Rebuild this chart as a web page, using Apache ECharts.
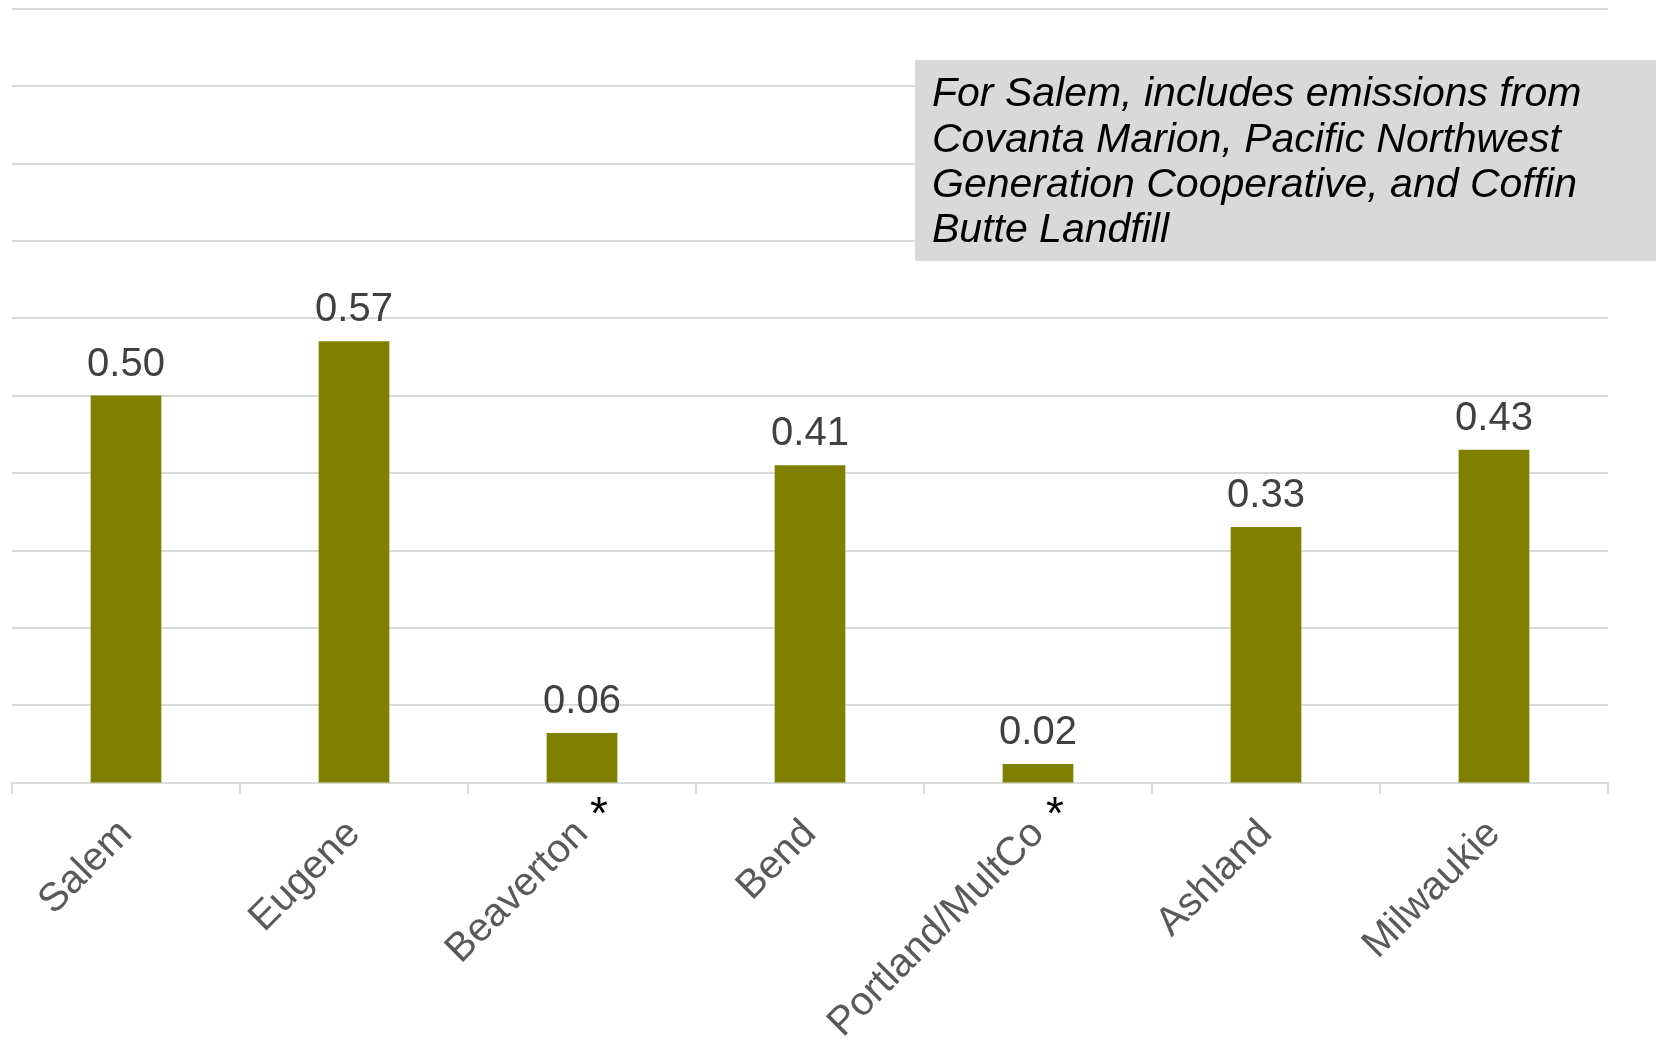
<!DOCTYPE html>
<html>
<head>
<meta charset="utf-8">
<style>
html,body{margin:0;padding:0;background:#fff;}
#chart{width:1656px;height:1044px;}
</style>
<script src="https://cdn.jsdelivr.net/npm/echarts@6/dist/echarts.min.js"></script>
</head>
<body>
<div id="chart"></div>
<script>
const categories = ['Salem', 'Eugene', 'Beaverton', 'Bend', 'Portland/MultCo', 'Ashland', 'Milwaukie'];
const values = [0.50, 0.57, 0.064, 0.41, 0.024, 0.33, 0.43];
const starred = ['Beaverton', 'Portland/MultCo'];
const noteText = 'For Salem, includes emissions from\nCovanta Marion, Pacific Northwest\nGeneration Cooperative, and Coffin\nButte Landfill';

const FONT = '"Liberation Sans", Arial, sans-serif';
const chart = echarts.init(document.getElementById('chart'));
const option = {
  animation: false,
  backgroundColor: '#ffffff',
  grid: { left: 12, right: 48, top: 8.5, bottom: 261.5, containLabel: false, outerBoundsMode: 'none' },
  xAxis: {
    type: 'category',
    data: categories,
    axisLine: { lineStyle: { color: '#d9d9d9', width: 2 } },
    axisTick: { show: true, length: 11, lineStyle: { color: '#d9d9d9', width: 2 } },
    axisLabel: {
      rotate: 45, margin: 45, color: '#595959', fontSize: 40, fontFamily: FONT, interval: 0
    }
  },
  yAxis: {
    type: 'value', min: 0, max: 1.0, interval: 0.1,
    axisLabel: { show: false }, axisLine: { show: false }, axisTick: { show: false },
    splitLine: { lineStyle: { color: '#d9d9d9', width: 2 } }
  },
  series: [{
    type: 'bar',
    data: values,
    barWidth: '31%',
    itemStyle: { color: '#808000' },
    label: {
      show: true, position: 'top', distance: 11,
      color: '#404040', fontSize: 40, fontFamily: FONT,
      formatter: p => p.value.toFixed(2)
    }
  }]
};
chart.setOption(option);

const graphics = [
  { type: 'rect', shape: { x: 915, y: 60, width: 741, height: 201 }, style: { fill: '#d9d9d9' }, z: 10 },
  { type: 'text', x: 932, y: 72, z: 11,
    style: { text: noteText, font: 'italic 41px ' + FONT, fill: '#000000', lineHeight: 45.4, verticalAlign: 'top' } }
];
const axisY = chart.convertToPixel({ yAxisIndex: 0 }, 0);
starred.forEach(c => {
  const px = chart.convertToPixel({ xAxisIndex: 0 }, c);
  graphics.push({ type: 'text', x: px + 17, y: axisY + 34, z: 11,
    style: { text: '*', font: '46px ' + FONT, fill: '#000000', align: 'center', verticalAlign: 'middle' } });
});
chart.setOption({ graphic: graphics });
</script>
</body>
</html>
